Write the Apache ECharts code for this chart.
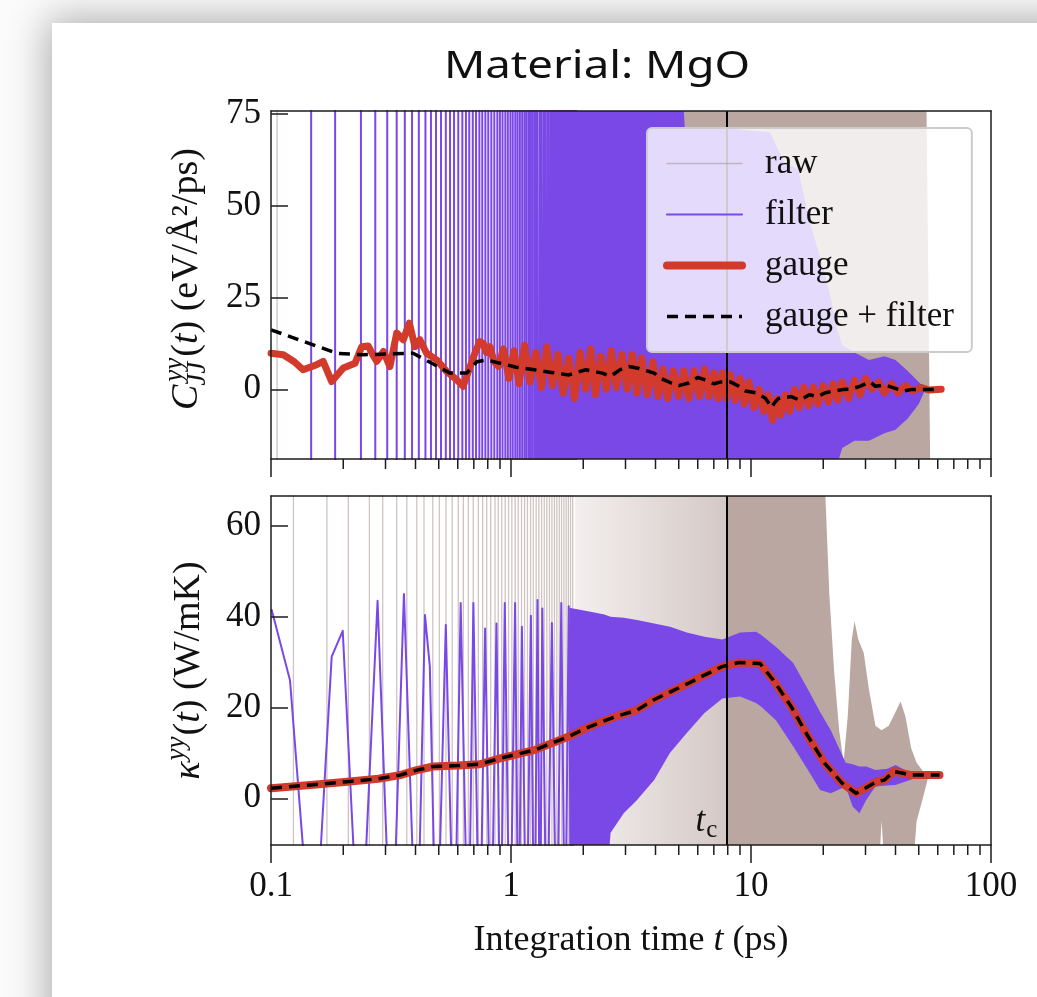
<!DOCTYPE html>
<html>
<head>
<meta charset="utf-8">
<title>Material: MgO</title>
<script src="https://cdn.jsdelivr.net/npm/echarts@6/dist/echarts.min.js"></script>
<style>
  html, body { margin: 0; padding: 0; width: 1037px; height: 997px; overflow: hidden; background: #fbfbfb; }
  #card { position: absolute; left: 52px; top: 23px; width: 1100px; height: 1100px; background: #fff;
          box-shadow: 0 0 38px 4px rgba(0, 0, 0, 0.32); }
  #chart { position: absolute; left: 0; top: 0; width: 1037px; height: 997px; }
</style>
</head>
<body>
<div id="card"></div>
<div id="chart"></div>
<script>
// ---------------------------------------------------------------------------
// Data (integration time t in ps)
// ---------------------------------------------------------------------------
const tc = 7.9;                                    // cutoff time t_c
const cTicks = [0, 25, 50, 75];                    // C_JJ axis ticks
const kTicks = [0, 20, 40, 60];                    // kappa axis ticks
const tMinorTicks = [0.2, 0.3, 0.4, 0.5, 0.6, 0.7, 0.8, 0.9,
                     2, 3, 4, 5, 6, 7, 8, 9,
                     20, 30, 40, 50, 60, 70, 80, 90];

// --- C_JJ^yy(t), gauge-fixed flux
const cGaugeT = [0.1, 0.1125, 0.125, 0.136, 0.155, 0.165, 0.179, 0.2, 0.224, 0.239, 0.254, 0.265, 0.276,
  0.294, 0.313, 0.334, 0.356, 0.377, 0.398, 0.417, 0.445, 0.49, 0.54, 0.594, 0.632, 0.664, 0.707, 0.74,
  0.767, 0.79, 0.817, 0.85, 0.886, 0.93, 0.98, 1.03, 1.08, 1.14, 1.2, 1.27, 1.34, 1.41, 1.49, 1.57, 1.65,
  1.74, 1.84, 1.94, 2.05, 2.15, 2.25, 2.37, 2.5, 2.62, 2.75, 2.9, 3.05, 3.2, 3.35, 3.5, 3.7, 3.9, 4.1,
  4.3, 4.5, 4.75, 5.0, 5.25, 5.5, 5.8, 6.1, 6.4, 6.7, 7.0, 7.3, 7.6, 7.9, 8.2, 8.6, 9.0, 9.4, 9.8, 10.3,
  10.8, 11.3, 11.8, 12.3, 12.8, 13.3, 13.9, 14.5, 15.2, 15.9, 16.6, 17.4, 18.2, 19, 20, 21, 22, 23, 24,
  25.5, 27, 28.5, 30, 32, 34, 36, 38.5, 41, 44, 47, 51, 55, 62];
const cGaugeV = [9.8, 9.4, 7.5, 5.3, 6.7, 7.6, 2.1, 5.8, 7.1, 11.6, 11.8, 9.5, 7.6,
  10.3, 6.2, 15.3, 13.5, 18, 11.6, 13.5, 9.8, 8, 4.8, 2.6, 0.8, 4.8, 9.8, 13,
  12.5, 10, 11.6, 7.5, 6.2, 11, 3, 10.5, 1.5, 12, 2, 10, 0.5, 11.5, 1, 9.5, -1,
  8.5, -2.5, 10, 0, 11, -1.5, 9, 0, 10.5, 0.5, 9.5, 0, 9.5, -1, 8.5, -1.5, 7.5, -2,
  5.5, -2.5, 5, -2, 5, -2.5, 5, -2, 5.5, -2, 4.5, -2.5, 4.5, -2.5, 4, -3, 3, -4, 2, -5,
  0, -6, -1.5, -8.5, -2.5, -7, -1.5, -6, 0, -5, 0.5, -4.5, 0.5, -4, 1, -3.5, 1.5, -3, 2,
  -2.5, 2.5, -1.5, 3, 0, 2, -1, 1.5, -1, 1, -0.5, 0.5, -0.2, 0];

// --- C_JJ^yy(t), gauge-fixed and filtered
const cGaugeFilterT = [0.1, 0.188, 0.242, 0.391, 0.47, 0.557, 0.654, 0.72, 0.79, 0.9, 1.05, 1.25, 1.5,
  1.74, 2.05, 2.4, 2.6, 2.84, 3.1, 3.35, 3.95, 4.2, 4.65, 5.0, 5.5, 6.0, 6.4, 7.0, 7.6, 8.2, 8.9, 9.5,
  10.6, 11.5, 12.2, 12.5, 13, 14.7, 16, 17.5, 19, 20.3, 22, 24.1, 26, 28.4, 30, 31.3, 33, 36, 39.6, 43,
  46.4, 50, 54.8, 61];
const cGaugeFilterV = [16.2, 9.8, 9.4, 9.8, 7, 4.4, 4.4, 7.5, 8, 7.1, 6, 5.3, 4.5,
  3.9, 5.3, 4.4, 3.5, 5.3, 6.2, 5.8, 4.4, 3, 1.7, 1, 1.7, 3.2, 2.6, 1.5, 2.1, 2, 0.8, -0.5,
  -1, -2.5, -5, -3.8, -2.5, -2, -3, -1.5, -2, -1, -0.5, -0.1, 0, 0.8, 1.5, 2.1, 0.8, 1.2, 0.3, -0.5,
  -0.1, 0, -0.1, -0.1];

// --- C_JJ^yy(t), filtered: times of its full-height swings, then the dense envelope
const cFilterSwingT = [0.147, 0.185, 0.237, 0.272, 0.305, 0.334, 0.361, 0.387, 0.413, 0.440, 0.464,
  0.487, 0.511, 0.535, 0.557, 0.579, 0.603, 0.627, 0.649, 0.670, 0.693, 0.715, 0.738, 0.759, 0.782,
  0.804, 0.828, 0.852, 0.877, 0.899, 0.922, 0.947, 0.970, 0.994, 1.017, 1.042, 1.065, 1.089, 1.113,
  1.138, 1.161, 1.186, 1.209, 1.233, 1.258, 1.281, 1.305, 1.330, 1.353, 1.377, 1.402, 1.425, 1.449,
  1.474, 1.497, 1.521, 1.546, 1.569, 1.593, 1.618, 1.641, 1.665, 1.690, 1.713, 1.737, 1.762, 1.785,
  1.809, 1.834, 1.857, 1.881];
const cFilterBandT  = [1.85, 5.1, 5.3, 8, 12, 13.7, 15.7, 17.5, 20, 21.5, 22.5, 24, 27, 31, 36, 40, 45, 50, 53];
const cFilterBandHi = [90, 90, 71, 71, 70, 62, 60, 46, 33, 25, 18, 12, 10, 8, 9, 8, 5, 2, 0.3];
const cFilterBandLo = [-30, -30, -30, -30, -30, -30, -30, -30, -30, -30, -22, -16, -14, -14, -12, -11, -8, -4, -0.3];

// --- C_JJ^yy(t), raw: a lone early swing, then the envelope
const cRawSwingT = [0.106];
const cRawBandT  = [2.5, 53.6, 56];
const cRawBandHi = [90, 90, -30];
const cRawBandLo = [-30, -30, -30];

// --- kappa^yy(t), gauge-fixed (and gauge-fixed + filtered, which coincide)
const kGaugeT = [0.1, 0.15, 0.213, 0.28, 0.345, 0.405, 0.474, 0.6, 0.741, 0.9, 1.25, 1.74, 2.05, 2.4, 2.8,
  3.35, 3.94, 4.64, 5.47, 6.43, 7.57, 8.9, 10.9, 12.4, 14.7, 17.3, 20.3, 24, 27.4, 29.9, 33.4, 36, 39.3,
  43, 46.4, 61];
const kGaugeV = [2.2, 3, 3.7, 4.3, 5.1, 6.2, 7, 7.2, 7.5, 8.8, 10.6, 13.6, 15.4, 16.9, 18.2,
  19.4, 21.7, 23.5, 25.3, 27.2, 29, 29.9, 29.7, 26, 20.2, 13.6, 7.7, 3.3, 1.1, 2.2, 3.7, 4, 5.9,
  5.5, 5.1, 5.1];
const kGaugeFilterV = [2.2, 3, 3.7, 4.3, 5.1, 6.2, 7, 7.2, 7.5, 8.8, 10.6, 13.6, 15.4, 16.9, 18.2,
  19.4, 21.7, 23.5, 25.3, 27.2, 29, 29.9, 29.7, 26, 20.2, 13.6, 7.7, 3.3, 1.1, 2.2, 3.7, 4, 5.9,
  5.5, 5.1, 5.1];

// --- kappa^yy(t), filtered: individual swings, then the dense envelope
const kFilterSwingT = [0.1007, 0.12, 0.15, 0.179, 0.199, 0.235, 0.278, 0.318, 0.358, 0.405, 0.438, 0.459,
  0.49, 0.535, 0.58, 0.617, 0.664, 0.697, 0.74, 0.78, 0.825, 0.87, 0.905, 0.942, 0.99, 1.04, 1.075,
  1.11, 1.16, 1.21, 1.25, 1.29, 1.32, 1.35, 1.41, 1.48, 1.55, 1.62, 1.68, 1.74, 1.79, 1.83];
const kFilterSwingV = [41.5, 26, -40, 31.2, 36.9, -40, 43.5, -40, 45, -40, 40.4, 29,
  -40, 38.2, -40, 43, -40, 43, -40, 37.4, -40, 38.5, -40, 43, -40, 43, -40,
  37.8, -40, 40.2, -40, 43.7, -40, 41.8, -40, 38.6, -40, 43, -40, 42.3, -40, 39.3];
const kFilterBandT  = [1.75, 2.2, 2.45, 2.6, 2.95, 3.35, 3.95, 4.6, 5.4, 6.4, 7.6, 9.0, 10.5, 11.0, 12.7,
  15.0, 17.6, 19.4, 21.5, 24.8, 26.5, 28.3, 30.2, 33, 37, 40, 46, 51];
const kFilterBandHi = [42, 41, 40.5, 40, 39.8, 39.3, 38.5, 37.8, 36.5, 35.6, 35, 36.5, 36.7, 36, 33.4,
  29.8, 23.2, 19, 15, 7.8, 7.5, 7, 7, 6.2, 6.5, 7.3, 5.6, 5.1];
const kFilterBandLo = [-40, -40, -25, -7.6, -3.3, -0.4, 4, 10, 14.4, 18.8, 22, 22.4, 21, 20.2, 17.2,
  11.4, 5.5, 1.8, 1.1, 2.6, -1.8, -3.3, -0.4, 2.6, 2.8, 2.9, 4, 5];

// --- kappa^yy(t), raw: individual swings, faint dense stretch before t_c, envelope after
const kRawSwingT = [0.124, 0.171, 0.210, 0.257, 0.292, 0.334, 0.368, 0.405, 0.434, 0.472, 0.503, 0.536,
  0.569, 0.603, 0.633, 0.664, 0.696, 0.731, 0.762, 0.792, 0.823, 0.858, 0.885, 0.915, 0.946, 0.977,
  1.008, 1.041, 1.072, 1.106, 1.139, 1.171, 1.206, 1.238, 1.273, 1.307, 1.341, 1.376, 1.41, 1.446,
  1.481, 1.517, 1.552, 1.589, 1.624, 1.661, 1.697, 1.734, 1.77, 1.808];
const kRawFadeT  = [1.85, 7.9];
const kRawFadeHi = [90, 90];
const kRawFadeLo = [-30, -30];
const kRawBandT  = [7.9, 19.6, 20.3, 21.2, 22.2, 23.3, 24.3, 25.3, 26.3, 27, 28, 29.5, 31, 33, 35, 37.5,
  40, 42, 44, 46.5, 49, 52, 55];
const kRawBandHi = [90, 90, 70, 45, 28, 15, 8, 18, 35, 39, 35, 32, 24, 16, 15, 16, 19, 21.3, 18, 11, 7.8, 6, 5];
const kRawBandLo = [-30, -30, -30, -30, -30, -30, -30, -30, -30, -30, -30, -30, -30, -30, -5, -30,
  -30, -30, -30, -20, -5, 0, 5];

// ---------------------------------------------------------------------------
// Style and layout
// ---------------------------------------------------------------------------
const SERIF = '"Liberation Serif", "Times New Roman", serif';
const INK = '#111111';
const AXIS_INK = '#1c1c1c';
const RAW_LINE = 'rgba(168, 148, 143, 0.55)';
const RAW_FILL = '#bba7a2';
const FILTER = '#7b48e8';
const GAUGE = '#d23a2b';
const DASH = '#000000';
const SWING_TIP = 400;              // swing extremes far outside both axes

const GRIDS = [
  { left: 271, top: 111, width: 720, height: 348 },
  { left: 271, top: 496, width: 720, height: 349 }
];
const C_RANGE = [-19, 75.8];
const K_RANGE = [-10.3, 66.6];

const pairs = (t, v) => t.map((x, i) => [x, v[i]]);

// vertical strokes through the whole plot at each swing time
function strokes(times) {
  const pts = [];
  times.forEach((t, i) => {
    const s = i % 2 ? -1 : 1;
    pts.push([t, s * SWING_TIP], [t, -s * SWING_TIP]);
  });
  return pts;
}

function lineSeries(name, grid, data, color, width, z, dash, extra) {
  return Object.assign({
    type: 'line', name, xAxisIndex: grid * 2, yAxisIndex: grid * 2, data,
    symbol: 'none', showSymbol: false, z, silent: true, clip: true, animation: false,
    itemStyle: { color },
    lineStyle: { color, width, type: dash || 'solid', join: 'round', cap: dash ? 'butt' : 'round' },
    emphasis: { disabled: true }
  }, extra || {});
}

function bandSeries(name, grid, t, hi, lo, fill, z) {
  return {
    type: 'custom', name, xAxisIndex: grid * 2, yAxisIndex: grid * 2, z, silent: true, clip: true,
    animation: false,
    data: [[t[0], lo[0]]],
    renderItem(params, api) {
      const pts = [];
      for (let i = 0; i < t.length; i++) pts.push(api.coord([t[i], hi[i]]));
      for (let i = t.length - 1; i >= 0; i--) pts.push(api.coord([t[i], lo[i]]));
      const cs = params.coordSys;
      return {
        type: 'polygon', shape: { points: pts }, style: { fill: typeof fill === 'function' ? fill() : fill },
        clipPath: { type: 'rect', shape: { x: cs.x, y: cs.y, width: cs.width, height: cs.height } }
      };
    }
  };
}

function minorTickSeries(grid) {
  return {
    type: 'custom', xAxisIndex: grid * 2, yAxisIndex: grid * 2, z: 10, silent: true, clip: false,
    animation: false,
    data: tMinorTicks.map(t => [t, 0]),
    renderItem(params, api) {
      const x = api.coord([api.value(0), 0])[0];
      const cs = params.coordSys;
      const y = cs.y + cs.height;
      return { type: 'line', shape: { x1: x, y1: y, x2: x, y2: y + 10 },
               style: { stroke: AXIS_INK, lineWidth: 1.5 } };
    }
  };
}

const tcLine = {
  silent: true, symbol: ['none', 'none'], label: { show: false }, animation: false,
  lineStyle: { color: '#000', width: 2, type: 'solid' },
  emphasis: { disabled: true },
  data: [{ xAxis: tc }]
};

function xAxes(grid, withLabels) {
  const base = {
    gridIndex: grid, type: 'log', logBase: 10, min: 0.1, max: 100, z: 10,
    splitLine: { show: false }, axisPointer: { show: false }
  };
  return [
    Object.assign({}, base, {
      position: 'bottom',
      axisLine: { show: true, onZero: false, lineStyle: { color: AXIS_INK, width: 1.5 } },
      axisTick: { show: true, inside: false, length: 18, lineStyle: { color: AXIS_INK, width: 1.5 } },
      axisLabel: { show: withLabels, margin: 24, color: INK, fontFamily: SERIF, fontSize: 35 },
      name: withLabels ? 'Integration time {it|t} (ps)' : '',
      nameLocation: 'middle', nameGap: 78,
      nameTextStyle: { color: INK, fontFamily: SERIF, fontSize: 36,
        rich: { it: { fontStyle: 'italic', fontFamily: SERIF, fontSize: 36, color: INK } } }
    }),
    Object.assign({}, base, {
      position: 'top',
      axisLine: { show: true, onZero: false, lineStyle: { color: AXIS_INK, width: 1.5 } },
      axisTick: { show: false }, axisLabel: { show: false }
    })
  ];
}

function yAxes(grid, range, ticks) {
  const base = { gridIndex: grid, type: 'value', min: range[0], max: range[1], z: 10,
                 splitLine: { show: false }, axisPointer: { show: false } };
  return [
    Object.assign({}, base, {
      position: 'left',
      axisLine: { show: true, onZero: false, lineStyle: { color: AXIS_INK, width: 1.5 } },
      axisTick: { show: true, inside: true, length: 17, customValues: ticks,
                  lineStyle: { color: AXIS_INK, width: 1.5 } },
      axisLabel: { show: true, customValues: ticks, margin: 10, color: INK, fontFamily: SERIF, fontSize: 35 }
    }),
    Object.assign({}, base, {
      position: 'right',
      axisLine: { show: true, onZero: false, lineStyle: { color: AXIS_INK, width: 1.5 } },
      axisTick: { show: false }, axisLabel: { show: false }
    })
  ];
}

// text measurement for the composite axis titles
const measureCtx = document.createElement('canvas').getContext('2d');
function textWidth(text, font) { measureCtx.font = font; return measureCtx.measureText(text).width; }

const F_MAIN = `38px ${SERIF}`;
const F_IT = `italic 38px ${SERIF}`;
const F_SMALL_IT = `italic 27px ${SERIF}`;

function textEl(text, font, x, y) {
  return { type: 'text', x, y, z: 40, silent: true,
    style: { text, font, fill: INK, align: 'left', verticalAlign: 'middle',
             textAlign: 'left', textVerticalAlign: 'middle' } };
}

// pieces laid out along a line; a "stack" holds a superscript over a subscript
function composedTitle(id, pieces, cx, cy, rotation) {
  let cursor = 0;
  const children = [];
  pieces.forEach(p => {
    const items = p.stack || [p];
    let w = 0;
    items.forEach(it => {
      children.push(textEl(it.text, it.font, cursor + (it.dx || 0), it.dy || 0));
      w = Math.max(w, textWidth(it.text, it.font) + (it.dx || 0));
    });
    cursor += w + (p.after || 0);
  });
  children.forEach(c => { c.x -= cursor / 2; });
  return { type: 'group', id, x: cx, y: cy, rotation, z: 40, silent: true, children };
}

const chart = echarts.init(document.getElementById('chart'), null, { renderer: 'canvas' });

const option = {
  animation: false,
  backgroundColor: 'transparent',
  grid: GRIDS.map(g => Object.assign({ containLabel: false, show: false }, g)),
  xAxis: [...xAxes(0, false), ...xAxes(1, true)],
  yAxis: [...yAxes(0, C_RANGE, cTicks), ...yAxes(1, K_RANGE, kTicks)],
  legend: {
    data: [
      { name: 'raw', lineStyle: { width: 1.5, color: RAW_LINE } },
      { name: 'filter', lineStyle: { width: 2.2, color: FILTER } },
      { name: 'gauge', lineStyle: { width: 8, color: GAUGE } },
      { name: 'gauge + filter', lineStyle: { width: 3.5, color: DASH, type: [11, 7] } }
    ],
    orient: 'vertical', left: 647, top: 128, z: 20,
    itemWidth: 75, itemHeight: 20, itemGap: 16,
    padding: [18, 18, 18, 16],
    backgroundColor: 'rgba(255,255,255,0.8)', borderColor: '#cccccc', borderWidth: 2, borderRadius: 5,
    selectedMode: false,
    itemStyle: { opacity: 0 },
    textStyle: { fontFamily: SERIF, fontSize: 35, color: INK, padding: [0, 0, 0, 18] }
  },
  series: [
    // lines first so the legend picks up their styles
    lineSeries('raw', 1, strokes(kRawSwingT), RAW_LINE, 1.3, 1),
    lineSeries('raw', 0, strokes(cRawSwingT), RAW_LINE, 1.3, 1),
    lineSeries('filter', 0, strokes(cFilterSwingT), FILTER, 2, 2),
    lineSeries('filter', 1, pairs(kFilterSwingT, kFilterSwingV), FILTER, 2, 2),
    lineSeries('gauge', 0, pairs(cGaugeT, cGaugeV), GAUGE, 7, 3, null, { markLine: tcLine }),
    lineSeries('gauge', 1, pairs(kGaugeT, kGaugeV), GAUGE, 8, 3, null, { markLine: tcLine }),
    lineSeries('gauge + filter', 0, pairs(cGaugeFilterT, cGaugeFilterV), DASH, 3.5, 4, [11, 7]),
    lineSeries('gauge + filter', 1, pairs(kGaugeT, kGaugeFilterV), DASH, 3.5, 4, [11, 7]),

    // dense stretches drawn as envelopes
    bandSeries('raw', 0, cRawBandT, cRawBandHi, cRawBandLo, RAW_FILL, 1),
    bandSeries('raw', 1, kRawFadeT, kRawFadeHi, kRawFadeLo, () => new echarts.graphic.LinearGradient(0, 0, 1, 0, [
      { offset: 0, color: 'rgba(187,167,162,0.18)' },
      { offset: 1, color: 'rgba(187,167,162,0.62)' }
    ]), 1),
    bandSeries('raw', 1, kRawBandT, kRawBandHi, kRawBandLo, RAW_FILL, 1),
    bandSeries('filter', 0, cFilterBandT, cFilterBandHi, cFilterBandLo, FILTER, 2),
    bandSeries('filter', 1, kFilterBandT, kFilterBandHi, kFilterBandLo, FILTER, 2),

    minorTickSeries(0),
    minorTickSeries(1)
  ]
};

chart.setOption(option);

// panel titles and annotations, placed once the axes exist
const topMid = chart.convertToPixel({ xAxisIndex: 0, yAxisIndex: 0 }, [0.1, (C_RANGE[0] + C_RANGE[1]) / 2]);
const botMid = chart.convertToPixel({ xAxisIndex: 2, yAxisIndex: 2 }, [0.1, (K_RANGE[0] + K_RANGE[1]) / 2]);
const tcPix = chart.convertToPixel({ xAxisIndex: 2, yAxisIndex: 2 }, [tc, K_RANGE[0]]);

const cTitle = composedTitle('cTitle', [
  { text: 'C', font: F_IT },
  { stack: [{ text: 'yy', font: F_SMALL_IT, dx: 3, dy: -12 }, { text: 'JJ', font: F_SMALL_IT, dx: -1, dy: 11 }], after: 1 },
  { text: '(', font: F_MAIN }, { text: 't', font: F_IT }, { text: ')', font: F_MAIN },
  { text: ' (eV/Å²/ps)', font: F_MAIN }
], topMid[0] - 84, topMid[1] - 6, Math.PI / 2);

const kTitle = composedTitle('kTitle', [
  { text: 'κ', font: F_IT },
  { stack: [{ text: 'yy', font: F_SMALL_IT, dx: 1, dy: -12 }], after: 1 },
  { text: '(', font: F_MAIN }, { text: 't', font: F_IT }, { text: ')', font: F_MAIN },
  { text: ' (W/mK)', font: F_MAIN }
], botMid[0] - 82, botMid[1], Math.PI / 2);

const F_TC = `italic 35px ${SERIF}`;
const F_TC_SUB = `25px ${SERIF}`;
const wT = textWidth('t', F_TC);
const wC = textWidth('c', F_TC_SUB);
const tcLabel = {
  type: 'group', id: 'tcLabel', x: tcPix[0] - 9 - (wT + 1 + wC), y: tcPix[1] - 23, z: 40, silent: true,
  children: [textEl('t', F_TC, 0, 0), textEl('c', F_TC_SUB, wT + 1, 8)]
};

chart.setOption({
  graphic: [
    { type: 'text', id: 'title', x: 597, y: 67, scaleX: 1.2, z: 40, silent: true,
      style: { text: 'Material: MgO', font: '38px "Noto Sans"', fill: INK,
               align: 'center', verticalAlign: 'middle', textAlign: 'center', textVerticalAlign: 'middle' } },
    cTitle, kTitle, tcLabel
  ]
});
</script>
</body>
</html>
